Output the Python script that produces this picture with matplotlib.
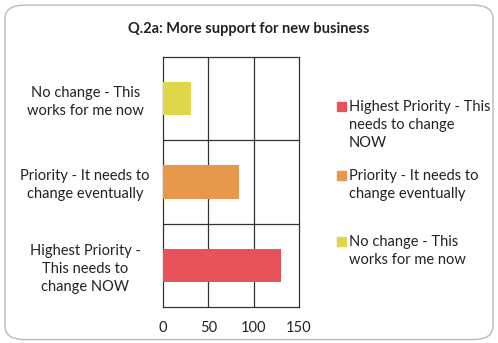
import matplotlib
matplotlib.use('Agg')
import matplotlib.pyplot as plt
from matplotlib.patches import FancyBboxPatch, Rectangle

# Data
categories = ['Highest Priority -\nThis needs to\nchange NOW',
              'Priority - It needs to\nchange eventually',
              'No change - This\nworks for me now']
legend_labels = ['Highest Priority - This\nneeds to change\nNOW',
                 'Priority - It needs to\nchange eventually',
                 'No change - This\nworks for me now']
values = [130, 84, 31]
colors = ['#E8525A', '#E8984C', '#E0D64A']
x_ticks = [0, 50, 100, 150]

plt.rcParams['font.family'] = ['Lato', 'DejaVu Sans']

fig = plt.figure(figsize=(4.98, 3.43), dpi=100)
ax = fig.add_axes([0.3273, 0.105, 0.2731, 0.729])

ypos = list(range(len(values)))
bars = ax.barh(ypos, values, height=0.4, color=colors, zorder=3)

ax.set_xlim(0, 150)
ax.set_ylim(-0.5, len(values) - 0.5)
ax.set_xticks(x_ticks)
ax.set_yticks(ypos)
ax.set_yticklabels(categories, ha='center', fontsize=10.5, color='#222222',
                   linespacing=1.35)
ax.tick_params(axis='y', length=0, pad=56)
ax.tick_params(axis='x', length=0, pad=10, labelsize=10.5, labelcolor='#222222')

# grid: vertical at ticks, horizontal at category boundaries
for xv in x_ticks[1:-1]:
    ax.axvline(xv, color='#333333', lw=0.9, zorder=1)
for yb in [0.5, 1.5]:
    ax.axhline(yb, color='#333333', lw=0.9, zorder=1)
for s in ax.spines.values():
    s.set_color('#333333')
    s.set_linewidth(0.9)

fig.text(0.5, 0.915, 'Q.2a: More support for new business', ha='center',
         va='center', fontsize=10.5, fontweight='bold', color='#222222')

# legend entries, key square aligned with the first text line (Excel style)
leg_tops = [0.707, 0.506, 0.314]
key_w, key_h = 9 / 498, 9 / 343
for col, lab, top in zip(colors, legend_labels, leg_tops):
    fig.patches.append(Rectangle((0.677, top - 0.03), key_w, key_h,
                                 transform=fig.transFigure, color=col))
    fig.text(0.701, top, lab, ha='left', va='top', fontsize=10.5,
             color='#222222', linespacing=1.35)

border = FancyBboxPatch((0.01, 0.01), 0.98, 0.975,
                        boxstyle='round,pad=0,rounding_size=0.04',
                        transform=fig.transFigure, fill=False,
                        edgecolor='#BBBBBB', lw=1.0)
fig.patches.append(border)

fig.savefig('out.png', dpi=100)
